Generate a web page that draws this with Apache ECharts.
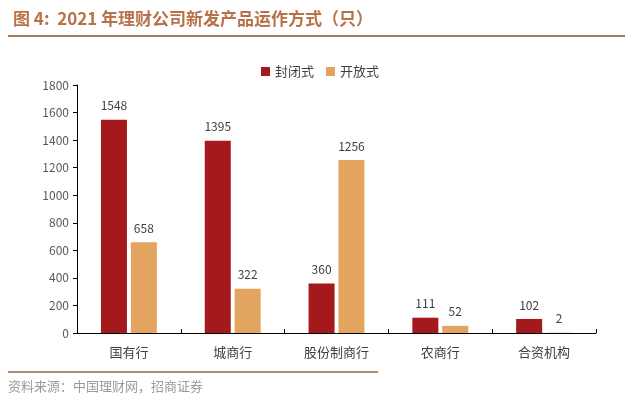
<!DOCTYPE html>
<html><head><meta charset="utf-8">
<script src="https://cdn.jsdelivr.net/npm/echarts@6/dist/echarts.min.js"></script>
<style>html,body{margin:0;padding:0;background:#fff}#c{width:640px;height:411px}</style>
</head><body><div id="c"></div>
<script>
const categories = ['国有行','城商行','股份制商行','农商行','合资机构'];
const closedVals = [1548, 1395, 360, 111, 102];
const openVals = [658, 322, 1256, 52, 2];
const seriesNames = ['封闭式','开放式'];
const yTicks = {min:0, max:1800, interval:200};

const chart = echarts.init(document.getElementById('c'));
const labelStyle = {show:true, position:'top', distance:8, color:'#404040', fontSize:12, fontFamily:'Noto Sans CJK SC'};
chart.setOption({
  animation:false,
  title:{text:'图 4:  2021 年理财公司新发产品运作方式（只）', left:8, top:5,
    textStyle:{color:'#b9714a', fontSize:17, fontWeight:'bold', fontFamily:'Noto Sans CJK SC'}},
  legend:{top:60, left:'center', itemWidth:9, itemHeight:9, itemGap:12,
    textStyle:{color:'#404040', fontSize:13, fontFamily:'Noto Sans CJK SC'},
    data:seriesNames, icon:'rect'},
  grid:{left:77, right:44, top:85, bottom:78},
  xAxis:{type:'category', data:categories,
    axisLine:{lineStyle:{color:'#000', width:1}},
    axisTick:{show:true, inside:true, length:4, lineStyle:{color:'#000'}},
    axisLabel:{color:'#404040', fontSize:13, margin:13, fontFamily:'Noto Sans CJK SC'}},
  yAxis:{type:'value', min:yTicks.min, max:yTicks.max, interval:yTicks.interval,
    splitLine:{show:false},
    axisLine:{show:true, lineStyle:{color:'#000', width:1}},
    axisTick:{show:true, length:4, lineStyle:{color:'#000'}},
    axisLabel:{color:'#595959', fontSize:12, margin:8, fontFamily:'Noto Sans CJK SC', formatter:v=>String(v)}},
  series:[
    {name:seriesNames[0], type:'bar', data:closedVals, barWidth:26, barGap:'15%',
     itemStyle:{color:'#a3191c'}, label:labelStyle},
    {name:seriesNames[1], type:'bar', data:openVals, barWidth:26,
     itemStyle:{color:'#e2a45e'}, label:labelStyle}
  ],
  graphic:[
    {type:'rect', shape:{x:8, y:35, width:617, height:2}, style:{fill:'#a77b5f'}},
    {type:'rect', shape:{x:8, y:371, width:370, height:2}, style:{fill:'#b08b74'}},
    {type:'text', left:8, top:380, style:{text:'资料来源：中国理财网，招商证券', fill:'#9b9b9b', fontSize:13, fontFamily:'Noto Sans CJK SC'}}
  ]
});
</script></body></html>
